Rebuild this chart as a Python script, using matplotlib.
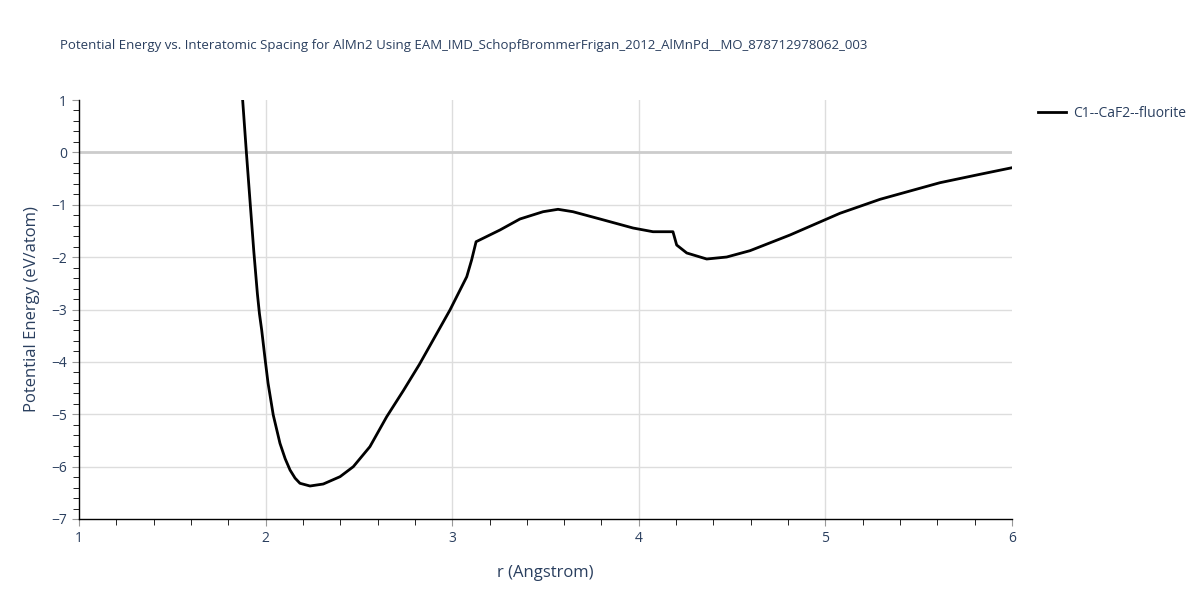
import matplotlib.pyplot as plt
from matplotlib.ticker import MultipleLocator

# Кривая потенциальной энергии
r = [1.877, 1.897, 1.918, 1.937, 1.956, 1.967, 1.979, 1.997, 2.013, 2.041,
     2.077, 2.105, 2.131, 2.158, 2.184, 2.238, 2.309, 2.399, 2.470, 2.559,
     2.649, 2.738, 2.824, 2.988, 3.078, 3.104, 3.128, 3.256, 3.363, 3.487,
     3.567, 3.647, 3.792, 3.969, 4.076, 4.183, 4.203, 4.257, 4.364, 4.471,
     4.596, 4.810, 5.078, 5.293, 5.614, 5.828, 6.0]
energy = [1.0, 0.0, -1.0, -1.9, -2.7, -3.08, -3.391, -3.94, -4.403, -5.014,
          -5.555, -5.85, -6.065, -6.22, -6.318, -6.370, -6.332, -6.192, -6.001, -5.619,
          -5.047, -4.55, -4.05, -3.010, -2.374, -2.055, -1.706, -1.482, -1.272, -1.133,
          -1.087, -1.133, -1.272, -1.444, -1.515, -1.515, -1.769, -1.921, -2.036, -1.998,
          -1.877, -1.578, -1.163, -0.896, -0.579, -0.419, -0.293]
series_name = "C1--CaF2--fluorite"
title = "Potential Energy vs. Interatomic Spacing for AlMn2 Using EAM_IMD_SchopfBrommerFrigan_2012_AlMnPd__MO_878712978062_003"
x_ticks = [1, 2, 3, 4, 5, 6]
y_ticks = [-7, -6, -5, -4, -3, -2, -1, 0, 1]

txt = '#2a3f5f'
plt.rcParams['font.family'] = ['Open Sans', 'DejaVu Sans']

fig = plt.figure(figsize=(12, 6), dpi=100)
ax = fig.add_axes([79/1200, 1 - 519/600, (1012 - 79)/1200, (519 - 100)/600])

ax.plot(r, energy, color='black', lw=2, label=series_name, zorder=3)

# сетка вручную: без линий по краям области
for v in x_ticks[1:-1]:
    ax.axvline(v, color='#dddddd', lw=1, zorder=0)
for v in y_ticks[1:-1]:
    ax.axhline(v, color='#cccccc' if v == 0 else '#dddddd',
               lw=2 if v == 0 else 1, zorder=1)

ax.set_xlim(1, 6)
ax.set_ylim(-7, 1)
ax.set_xticks(x_ticks)
ax.xaxis.set_minor_locator(MultipleLocator(0.2))
ax.set_yticks(y_ticks)
ax.set_yticklabels([str(v).replace('-', '\u2212') for v in y_ticks])
ax.yaxis.set_minor_locator(MultipleLocator(0.2))

for s in ['top', 'right']:
    ax.spines[s].set_visible(False)
for s in ['left', 'bottom']:
    ax.spines[s].set_color('black')
    ax.spines[s].set_linewidth(1)

ax.tick_params(which='major', direction='out', length=5, color='#999999',
               labelsize=10, labelcolor=txt)
ax.tick_params(which='minor', direction='out', length=4, color='black')

ax.set_xlabel("r (Angstrom)", fontsize=12, color=txt, labelpad=14)
ax.set_ylabel("Potential Energy (eV/atom)", fontsize=12, color=txt, labelpad=8)

fig.text(60/1200, 1 - 45/600, title, fontsize=9.5, color=txt, va='center', ha='left')

ax.legend(loc='upper left', bbox_to_anchor=(1.022, 1.0), frameon=False,
          fontsize=10, labelcolor=txt, handlelength=2.0, handletextpad=0.5,
          borderaxespad=0)

fig.savefig('out.png', dpi=100)
